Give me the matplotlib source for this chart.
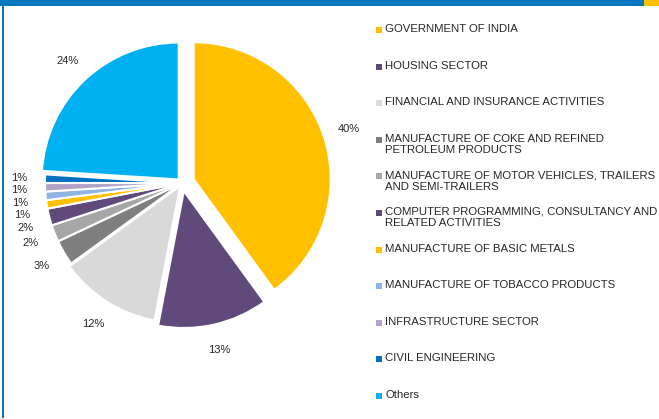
import numpy as np
import matplotlib.pyplot as plt
from matplotlib.patches import Rectangle

plt.rcParams['font.family'] = ['Liberation Sans', 'DejaVu Sans']

sectors = [
    'GOVERNMENT OF INDIA',
    'HOUSING SECTOR',
    'FINANCIAL AND INSURANCE ACTIVITIES',
    'MANUFACTURE OF COKE AND REFINED\nPETROLEUM PRODUCTS',
    'MANUFACTURE OF MOTOR VEHICLES, TRAILERS\nAND SEMI-TRAILERS',
    'COMPUTER PROGRAMMING, CONSULTANCY AND\nRELATED ACTIVITIES',
    'MANUFACTURE OF BASIC METALS',
    'MANUFACTURE OF TOBACCO PRODUCTS',
    'INFRASTRUCTURE SECTOR',
    'CIVIL ENGINEERING',
    'Others',
]
shares = [40, 13, 12, 3, 2, 2, 1, 1, 1, 1, 24]
colors = ['#FFC000', '#604A7B', '#D9D9D9', '#7F7F7F', '#A6A6A6', '#604A7B',
          '#FFC000', '#8DB4E2', '#B3A2C7', '#0070C0', '#00B0F0']
explode = [0.09, 0.06, 0.025, 0, 0, 0, 0, 0, 0, 0, 0.035]

W, H = 659, 419
R = 137
cx, cy = 182, H - 183
text_col = '#262626'

fig = plt.figure(figsize=(W / 100, H / 100), dpi=100)
ax = fig.add_axes([0, 0, 1, 1])

# pie explode is in data units, so scale by the radius
wedges, _ = ax.pie(shares, colors=colors, explode=[e * R for e in explode],
                   startangle=90, counterclock=False, radius=R, center=(cx, cy),
                   wedgeprops=dict(edgecolor='white', linewidth=1.5))

# percentage labels, small left-hand ones spread out vertically
r_lab = 1.19 * R
pos = []
for w in wedges:
    th = np.deg2rad((w.theta1 + w.theta2) / 2)
    pos.append([r_lab * np.cos(th), r_lab * np.sin(th), w.center])
prev = None
for i in range(9, 2, -1):
    if prev is not None and pos[i][1] > prev - 12.5:
        pos[i][1] = prev - 12.5
        pos[i][0] = -np.sqrt(max(r_lab ** 2 - pos[i][1] ** 2, 0))
    prev = pos[i][1]
for (dx, dy, c), s in zip(pos, shares):
    ax.text(c[0] + dx, c[1] + dy, f'{s}%', ha='center', va='center',
            fontsize=8, color=text_col)

# legend
for i, (name, col) in enumerate(zip(sectors, colors)):
    y = H - (30 + i * 36.6)
    ax.add_patch(Rectangle((376, y - 3), 6, 6, color=col, lw=0))
    ax.text(385, y + 6, name, ha='left', va='top', fontsize=8.2,
            color=text_col, linespacing=1.15)

# frame bits
ax.add_patch(Rectangle((0, H - 6), 644, 6, color='#0079C1', lw=0))
ax.add_patch(Rectangle((644, H - 6), 15, 6, color='#FFC000', lw=0))
ax.add_patch(Rectangle((2, 1), 2, H - 7, color='#0079C1', lw=0))

ax.set_xlim(0, W)
ax.set_ylim(0, H)
ax.set_aspect('auto')
ax.axis('off')

fig.savefig('out.png', dpi=100)
